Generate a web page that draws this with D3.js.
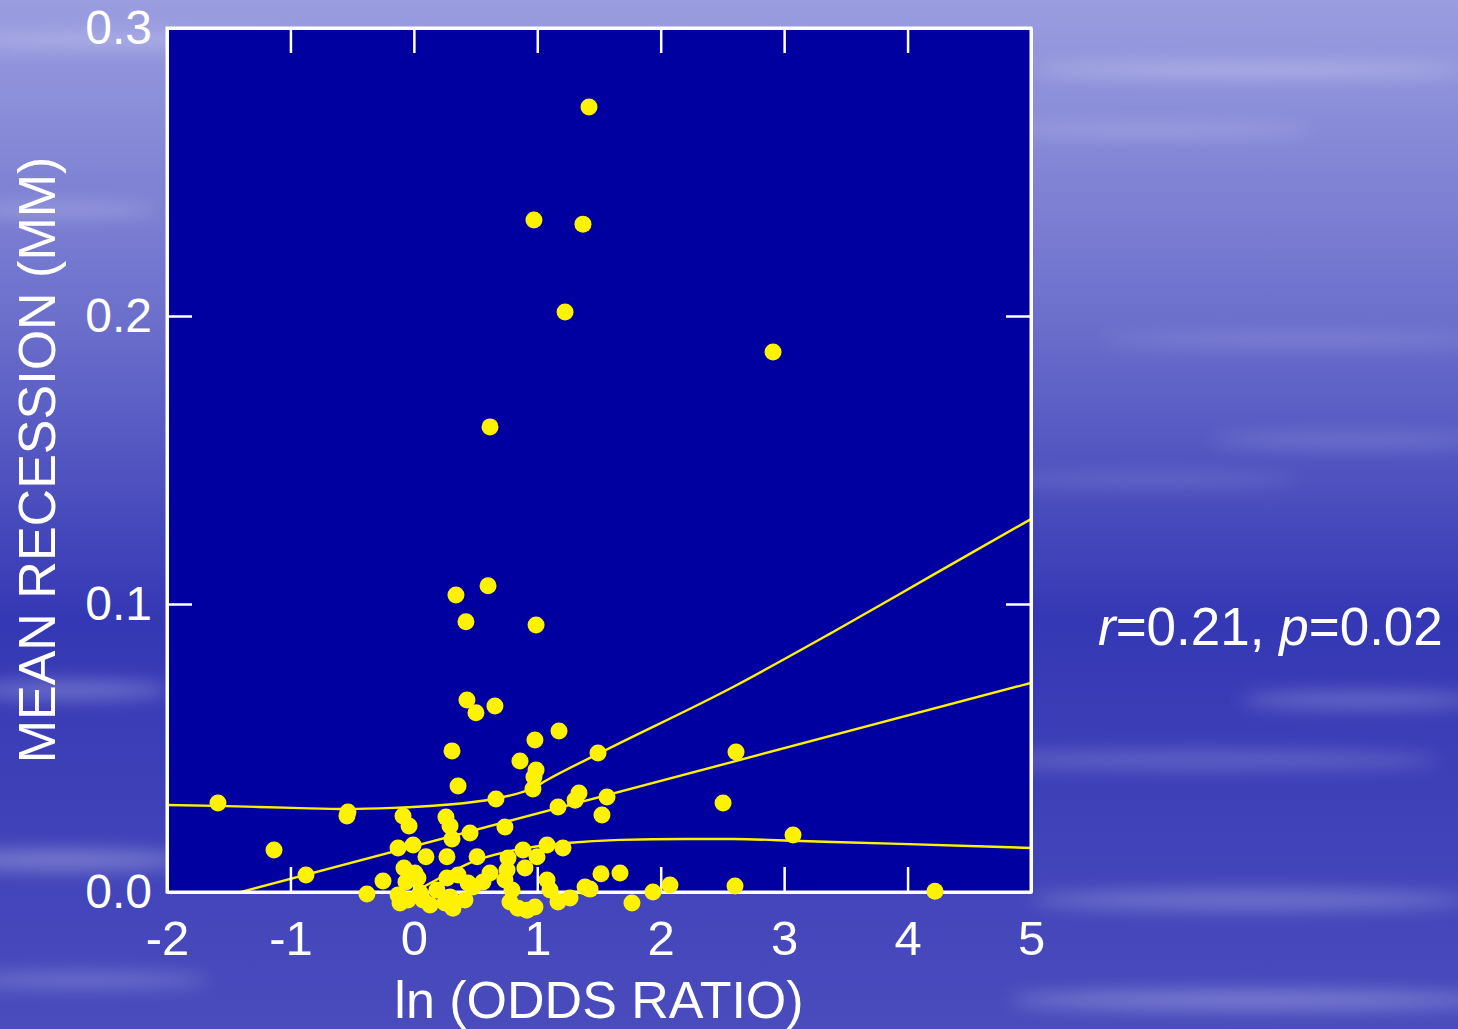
<!DOCTYPE html>
<html>
<head>
<meta charset="utf-8">
<script src="https://cdn.jsdelivr.net/npm/d3@7"></script>
<style>
  html, body { margin: 0; padding: 0; background: #4a4cc0; }
  svg { display: block; }
  text { font-family: "Liberation Sans", Arial, sans-serif; fill: #fff; }
</style>
</head>
<body>
<div class="chart__wrapper"></div>
<script>
// ln(odds ratio) and mean recession (mm)
const lnOdds = [
  -1.587, -1.133, -0.874, -0.534, -0.542, -0.380, -0.250, -0.128, -0.128, -0.112,
  -0.088, -0.039, -0.006, -0.080, 0.009, -0.064, 0.033, -0.047, 0.050, 0.074,
  0.131, 0.098, 0.187, 0.260, 0.293, 0.309, 0.268, 0.268, 0.252, 0.293,
  0.317, 0.358, 0.414, 0.439, 0.309, 0.341, 0.358, 0.422, 0.430, 0.503,
  0.455, 0.512, 0.479, 0.560, 0.601, 0.617, 0.617, 0.657, 0.665, 0.738,
  0.763, 0.755, 0.738, 0.795, 0.779, 0.844, 0.860, 0.884, 0.900, 0.981,
  0.973, 0.981, 0.990, 0.973, 0.965, 0.990, 0.998, 1.079, 1.079, 1.103,
  1.168, 1.176, 1.208, 1.225, 1.168, 1.265, 1.306, 1.338, 1.370, 1.387,
  1.427, 1.419, 1.492, 1.524, 1.516, 1.565, 1.670, 1.767, 1.937, 2.075,
  2.505, 2.602, 2.610, 2.910, 3.072, 4.222, 0.917
];
const recession = [
  0.0309, 0.0146, 0.0059, 0.0278, 0.0264, -0.0007, 0.0038, 0.0153, -0.0010, -0.0038,
  0.0264, 0.0229, 0.0163, 0.0083, 0.0066, 0.0035, 0.0049, -0.0028, -0.0003, -0.0028,
  -0.0045, 0.0122, 0.0007, 0.0260, 0.0229, 0.0184, 0.0122, 0.0049, -0.0038, -0.0017,
  -0.0056, 0.0059, -0.0028, 0.0031, 0.0490, 0.1031, 0.0368, 0.0938, 0.0667, 0.0622,
  0.0205, 0.0122, 0.0017, 0.0035, 0.1063, 0.1615, 0.0066, 0.0646, 0.0323, 0.0226,
  0.0118, 0.0076, 0.0042, 0.0007, -0.0035, -0.0056, 0.0455, 0.0146, 0.0083, -0.0052,
  0.2333, 0.0528, 0.0424, 0.0399, 0.0358, 0.0927, 0.0122, 0.0163, 0.0042, 0.0007,
  0.0295, 0.0559, 0.0153, 0.2014, -0.0035, -0.0021, 0.0319, 0.0344, 0.2319, 0.0017,
  0.0010, 0.2726, 0.0483, 0.0267, 0.0063, 0.0330, 0.0066, -0.0038, 0.0000, 0.0024,
  0.0309, 0.0021, 0.0486, 0.1875, 0.0198, 0.0003, -0.0063
];

// regression line and its confidence band
const fitX = [-2, 5];
const fitY = [-0.0068, 0.0726];
const upperX = [-2, -1.595, -0.979, -0.542, -0.169, 0.236, 0.641, 0.965, 1.079, 1.508, 2.586, 3.396, 4.206, 5];
const upperY = [0.0302, 0.0299, 0.0292, 0.0288, 0.0292, 0.0302, 0.0323, 0.0361, 0.0389, 0.0483, 0.0712, 0.0903, 0.1101, 0.1295];
const lowerX = [-0.1, 0.074, 0.511, 0.916, 1.24, 1.67, 2.2, 2.586, 3.13, 3.94, 5];
const lowerY = [-0.0023, 0.0017, 0.0111, 0.0153, 0.0170, 0.0181, 0.0184, 0.0184, 0.0177, 0.0167, 0.0153];

const xTicks = [-2, -1, 0, 1, 2, 3, 4, 5];
const yTicks = [0.0, 0.1, 0.2, 0.3];

const svgWidth = 1458;
const svgHeight = 1029;
const margin = { top: 28, right: 427, bottom: 137, left: 167 };
const width = svgWidth - margin.left - margin.right;
const height = svgHeight - margin.top - margin.bottom;

const root = d3
  .select(".chart__wrapper")
  .append("svg")
  .attr("width", svgWidth)
  .attr("height", svgHeight);

// wallpaper-like background
const defs = root.append("defs");
const grad = defs.append("linearGradient").attr("id", "bg").attr("x1", 0).attr("y1", 0).attr("x2", 0).attr("y2", 1);
grad.append("stop").attr("offset", "0%").attr("stop-color", "#9a9ddf");
grad.append("stop").attr("offset", "30%").attr("stop-color", "#6e71cc");
grad.append("stop").attr("offset", "60%").attr("stop-color", "#3538b4");
grad.append("stop").attr("offset", "100%").attr("stop-color", "#4a4cbd");
defs.append("filter").attr("id", "blur")
  .attr("x", "-20%").attr("y", "-200%").attr("width", "140%").attr("height", "500%")
  .append("feGaussianBlur").attr("stdDeviation", 9);
defs.append("clipPath").attr("id", "plotClip").append("rect").attr("width", width).attr("height", height);

root.append("rect").attr("width", svgWidth).attr("height", svgHeight).attr("fill", "url(#bg)");
const streaks = [
  [120, 40, 200, 6, 0.3], [1250, 70, 220, 7, 0.3], [1150, 130, 160, 5, 0.25],
  [60, 210, 100, 5, 0.3], [1300, 340, 200, 6, 0.18], [1350, 440, 140, 6, 0.2],
  [70, 690, 100, 9, 0.28], [1200, 760, 240, 9, 0.2], [1360, 700, 120, 8, 0.25],
  [60, 860, 130, 10, 0.3], [1250, 900, 220, 10, 0.25], [1250, 1000, 240, 9, 0.3],
  [80, 980, 130, 7, 0.25], [1150, 480, 150, 5, 0.18]
];
root.append("g")
  .selectAll("ellipse")
  .data(streaks)
  .enter()
  .append("ellipse")
  .attr("cx", (d) => d[0])
  .attr("cy", (d) => d[1])
  .attr("rx", (d) => d[2])
  .attr("ry", (d) => d[3])
  .attr("fill", "#fff")
  .attr("opacity", (d) => d[4])
  .attr("filter", "url(#blur)");

const svg = root.append("g").attr("transform", `translate(${margin.left},${margin.top})`);

const x = d3.scaleLinear().domain([-2, 5]).range([0, width]);
const y = d3.scaleLinear().domain([0, 0.3]).range([height, 0]);

svg.append("rect").attr("width", width).attr("height", height).attr("fill", "#0000a0");

// lines
const line = d3.line().x((d) => x(d[0])).y((d) => y(d[1]));
const smooth = d3.line().curve(d3.curveMonotoneX).x((d) => x(d[0])).y((d) => y(d[1]));
const lines = svg.append("g").attr("clip-path", "url(#plotClip)")
  .attr("fill", "none").attr("stroke", "#fff200").attr("stroke-width", 2.4);
lines.append("path").attr("d", line(d3.zip(fitX, fitY)));
lines.append("path").attr("d", smooth(d3.zip(upperX, upperY)));
lines.append("path").attr("d", smooth(d3.zip(lowerX, lowerY)));

// frame and inward ticks
const tickLen = 25;
const axisStyle = (g) => {
  g.selectAll("path").attr("stroke", "#fff").attr("stroke-width", 3);
  g.selectAll("line").attr("stroke", "#fff").attr("stroke-width", 2.5);
};
svg.append("g").attr("transform", `translate(0,${height})`)
  .call(d3.axisBottom(x).tickValues(xTicks).tickSizeInner(-tickLen).tickSizeOuter(0).tickPadding(28).tickFormat((d) => String(d)))
  .call(axisStyle)
  .call((g) => g.selectAll("text").attr("font-size", 49).attr("fill", "#fff").attr("dy", "0.71em"));
svg.append("g")
  .call(d3.axisTop(x).tickValues(xTicks).tickSizeInner(-tickLen).tickSizeOuter(0).tickFormat(""))
  .call(axisStyle);
svg.append("g")
  .call(d3.axisLeft(y).tickValues(yTicks).tickSizeInner(-tickLen).tickSizeOuter(0).tickPadding(15).tickFormat(d3.format(".1f")))
  .call(axisStyle)
  .call((g) => g.selectAll("text").attr("font-size", 48).attr("fill", "#fff"));
svg.append("g").attr("transform", `translate(${width},0)`)
  .call(d3.axisRight(y).tickValues(yTicks).tickSizeInner(-tickLen).tickSizeOuter(0).tickFormat(""))
  .call(axisStyle);
svg.append("rect").attr("width", width).attr("height", height)
  .attr("fill", "none").attr("stroke", "#fff").attr("stroke-width", 3);

// points (not clipped, they spill below the axis as in the original)
svg.append("g")
  .selectAll(".dot")
  .data(d3.zip(lnOdds, recession))
  .enter()
  .append("circle")
  .attr("class", "dot")
  .attr("cx", (d) => x(d[0]))
  .attr("cy", (d) => y(d[1]))
  .attr("r", 8.5)
  .attr("fill", "#fff200");

// titles
svg.append("text")
  .attr("x", width / 2)
  .attr("y", height + 126)
  .attr("text-anchor", "middle")
  .attr("font-size", 52)
  .text("ln (ODDS RATIO)");
svg.append("text")
  .attr("transform", `translate(${-112},${432}) rotate(-90)`)
  .attr("text-anchor", "middle")
  .attr("font-size", 52)
  .text("MEAN RECESSION (MM)");

const note = svg.append("text")
  .attr("x", 931)
  .attr("y", 617)
  .attr("font-size", 53);
note.append("tspan").attr("font-style", "italic").text("r");
note.append("tspan").text("=0.21, ");
note.append("tspan").attr("font-style", "italic").text("p");
note.append("tspan").text("=0.02");
</script>
</body>
</html>
